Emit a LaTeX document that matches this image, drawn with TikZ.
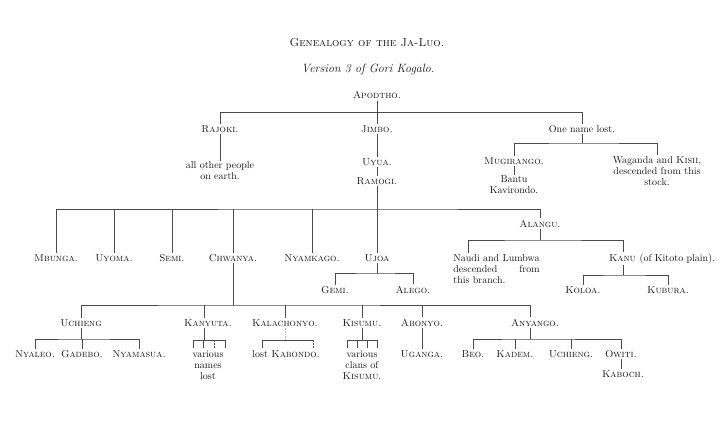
\documentclass[tikz,border=0pt]{standalone}
\usepackage{calc}
\definecolor{ink}{HTML}{141414}
\definecolor{rulegray}{HTML}{4A4A4A}
\tikzset{
  ln/.style={draw=rulegray, line width=0.6pt},
  nm/.style={font=\fontsize{10}{11}\selectfont\scshape, text=ink, inner sep=1.2pt, anchor=base},
  tx/.style={font=\fontsize{10}{11}\selectfont, text=ink, inner sep=1.2pt, align=center, anchor=north},
  rm/.style={font=\fontsize{10}{11}\selectfont},
}
\begin{document}
\begin{tikzpicture}[x=1pt,y=-1pt]
\fill[white] (0,0) rectangle (720,428);
\useasboundingbox (0,0) rectangle (720,428);

% titles
\node[nm, font=\fontsize{11.5}{13}\selectfont\scshape] (title) at (367,47) {Genealogy of the Ja-Luo.};
\node[nm, font=\fontsize{12}{14}\selectfont\itshape] (version) at (368,73) {Version 3 of Gori Kogalo.};

% level 0 / 1
\node[nm] (apodtho) at (377,99) {Apodtho.};
\node[nm] (rajoki) at (220,132) {Rajoki.};
\node[nm] (jimbo) at (377,132) {Jimbo.};
\node[nm, rm] (onelost) at (582,132) {One name lost.};
\node[tx] (allother) at (220,160.5) {all other people\\on earth.};
\node[nm] (uyua) at (377,165.5) {Uyua.};
\node[nm] (ramogi) at (377,184.5) {Ramogi.};
\node[nm] (mugirango) at (514,164) {Mugirango.};
\node[tx] (bantu) at (514,174.5) {Bantu\\Kavirondo.};
\node[tx] (waganda) at (657,155) {Waganda and \textsc{Kisii},\\descended from this\\stock.};

% level 2
\node[nm] (alangu) at (540,227) {Alangu.};
\node[nm] (mbunga) at (56,261) {Mbunga.};
\node[nm] (uyoma) at (114,261) {Uyoma.};
\node[nm] (semi) at (172,261) {Semi.};
\node[nm] (chwanya) at (233,261) {Chwanya.};
\node[nm] (nyamkago) at (312,261) {Nyamkago.};
\node[nm] (ujoa) at (377,261) {Ujoa};
\node[tx, align=left, anchor=north west] (naudi) at (452,253) {Naudi and Lumbwa\\\makebox[\widthof{Naudi and Lumbwa}][s]{descended from}\\this branch.};
\node[nm] (kanu) at (662,261) {Kanu {\upshape (of Kitoto plain).}};
\node[nm] (koloa) at (583,293) {Koloa.};
\node[nm] (kubura) at (668,293) {Kubura.};
\node[nm] (gemi) at (335,293) {Gemi.};
\node[nm] (alego) at (413,293) {Alego.};

% level 3
\node[nm] (uchieng) at (81,326) {Uchieng};
\node[nm] (kanyuta) at (208,326) {Kanyuta.};
\node[nm] (kalachonyo) at (285,326) {Kalachonyo.};
\node[nm] (kisumu) at (362,326) {Kisumu.};
\node[nm] (abonyo) at (422,326) {Abonyo.};
\node[nm] (anyango) at (535,326) {Anyango.};

% level 4
\node[nm] (nyaleo) at (35,357.5) {Nyaleo.};
\node[nm] (gadebo) at (82,357.5) {Gadebo.};
\node[nm] (nyamasua) at (139,357.5) {Nyamasua.};
\node[tx] (various) at (208,349.6) {various\\names\\lost};
\node[nm, rm] (lostk) at (286,357.5) {lost \textsc{Kabondo}.};
\node[tx] (clans) at (362,349.6) {various\\clans of\\\textsc{Kisumu}.};
\node[nm] (uganga) at (422,357.5) {Uganga.};
\node[nm] (beo) at (473,357.5) {Beo.};
\node[nm] (kadem) at (515,357.5) {Kadem.};
\node[nm] (uchiengb) at (571,357.5) {Uchieng.};
\node[nm] (owiti) at (621,357.5) {Owiti.};
\node[nm] (kaboch) at (623,377.5) {Kaboch.};

% connectors: level 1
\coordinate (b1) at (582,112);
\draw[ln] (apodtho.south) -- (jimbo.north);
\draw[ln] (rajoki.north) |- (b1) -- (onelost.north);
\draw[ln] (rajoki.south) -- (allother.north);
\draw[ln] (jimbo.south) -- (uyua.north);
\draw[ln] (uyua.south) -- (ramogi.north);
\coordinate (b1b) at (582,143);
\draw[ln] (onelost.south) -- (b1b);
\draw[ln] (mugirango.north) |- (b1b) -| (waganda.north);
\draw[ln] (mugirango.south) -- (bantu.north);

% level 2
\coordinate (b2) at (377,209);
\draw[ln] (ramogi.south) -- (ujoa.north);
\draw[ln] (mbunga.north) |- (b2) -| (alangu.north);
\foreach \n in {uyoma,semi,chwanya,nyamkago}
  \draw[ln] (\n.north) -- (\n.north |- b2);
\coordinate (b2a) at (540,240);
\coordinate (nx) at (468,0);
\coordinate (kx) at (623,0);
\draw[ln] (alangu.south) -- (b2a);
\draw[ln] (nx |- naudi.north) |- (b2a) -| (kx |- kanu.north);
\coordinate (kb) at (623,275);
\draw[ln] (kx |- kanu.south) -- (kb);
\draw[ln] (koloa.north) |- (kb) -| (kubura.north);
\coordinate (ub) at (377,273);
\draw[ln] (ujoa.south) -- (ub);
\draw[ln] (gemi.north) |- (ub) -| (alego.north);

% level 3
\coordinate (b3) at (233,305);
\coordinate (ax) at (530,0);
\coordinate (kyx) at (204,0);
\draw[ln] (chwanya.south) -- (b3);
\draw[ln] (uchieng.north) |- (b3) -| (ax |- anyango.north);
\draw[ln] (kyx |- b3) -- (kyx |- kanyuta.north);
\foreach \n in {kalachonyo,kisumu,abonyo}
  \draw[ln] (\n.north) -- (\n.north |- b3);

% Uchieng's children
\coordinate (ucb) at (81,339);
\draw[ln] (uchieng.south) -- (ucb);
\draw[ln] (nyaleo.north) |- (ucb) -| (nyamasua.north);
\draw[ln] (gadebo.north) -- (gadebo.north |- ucb);

% Kanyuta comb
\coordinate (kyc) at (204,340);
\draw[ln] (kyx |- kanyuta.south) -- (kyc);
\draw[ln] ([xshift=-11pt]kyc) -- ([xshift=21pt]kyc);
\foreach \d in {-11,-1,21}
  \draw[ln] ([xshift=\d pt]kyc) -- ++(0,7.5);
\draw[ln, dash pattern=on 2pt off 1.2pt] ([xshift=10pt]kyc) -- ++(0,7.5);

% Kalachonyo comb
\coordinate (klc) at (286,340);
\draw[ln, draw=rulegray!45, densely dotted] (kalachonyo.south) -- (kalachonyo.south |- klc);
\draw[ln] ([xshift=-24pt]klc) -- ([xshift=27pt]klc);
\draw[ln] ([xshift=-24pt]klc) -- ++(0,7.5);
\draw[ln, dash pattern=on 2pt off 1.2pt] ([xshift=27pt]klc) -- ++(0,7.5);

% Kisumu comb
\coordinate (ksc) at (362,340);
\draw[ln] (kisumu.south) -- (ksc);
\draw[ln] ([xshift=-15pt]ksc) -- ([xshift=15pt]ksc);
\foreach \d in {-15,-5,5,15}
  \draw[ln] ([xshift=\d pt]ksc) -- ++(0,7.5);

% Abonyo
\draw[ln] (abonyo.south) -- (uganga.north);

% Anyango's children
\coordinate (ab) at (530,339);
\draw[ln] (ax |- anyango.south) -- (ab);
\draw[ln] (beo.north) |- (ab) -| (owiti.north);
\draw[ln] (kadem.north) -- (kadem.north |- ab);
\draw[ln] (uchiengb.north) -- (uchiengb.north |- ab);
\draw[ln] (owiti.south) -- (owiti.south |- kaboch.north);
\end{tikzpicture}
\end{document}
